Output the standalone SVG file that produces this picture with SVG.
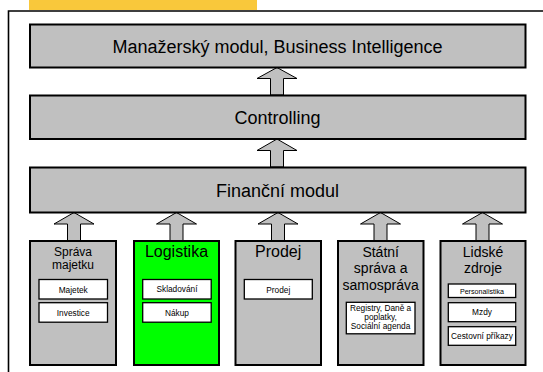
<svg xmlns="http://www.w3.org/2000/svg" width="543" height="372" viewBox="0 0 543 372">
<style>
.box{fill:#C0C0C0;stroke:#000;stroke-width:2}
.green{fill:#00FF00;stroke:#000;stroke-width:2}
.sub{fill:#fff;stroke:#000;stroke-width:1.3}
.arr{fill:#C0C0C0;stroke:#000;stroke-width:1}
text{font-family:"Liberation Sans",Arial,sans-serif;fill:#000;text-anchor:middle}
.big{font-size:18px}
.t{font-size:14px}
.s{font-size:8.3px}
</style>
<rect x="0" y="0" width="543" height="372" fill="#fff"/>
<rect x="29" y="0" width="228" height="10" fill="#F9C83B"/>
<path d="M8.5,380 V11 H560" fill="none" stroke="#000" stroke-width="1.6"/>
<g id="connectors">
<polygon class="arr" points="277,67.5 297,78.5 283.5,78.5 283.5,95 270.5,95 270.5,78.5 257,78.5"/>
<polygon class="arr" points="277,139 297,150.5 283.5,150.5 283.5,167 270.5,167 270.5,150.5 257,150.5"/>
<polygon class="arr" points="74,212.5 94,224 80.5,224 80.5,241 67.5,241 67.5,224 54,224"/>
<polygon class="arr" points="176.5,212.5 196.5,224 183,224 183,241 170,241 170,224 156.5,224"/>
<polygon class="arr" points="278,212.5 298,224 284.5,224 284.5,241 271.5,241 271.5,224 258,224"/>
<polygon class="arr" points="380.5,212.5 400.5,224 387,224 387,241 374,241 374,224 360.5,224"/>
<polygon class="arr" points="482.5,212.5 502.5,224 489,224 489,241 476,241 476,224 462.5,224"/>
</g>
<g id="bi">
<rect class="box" x="30" y="24.5" width="495.5" height="43"/>
<text class="big" x="277.5" y="52.5">Manažerský modul, Business Intelligence</text>
</g>
<g id="controlling">
<rect class="box" x="30" y="95.5" width="495.5" height="43.5"/>
<text class="big" x="277.5" y="123.5">Controlling</text>
</g>
<g id="financni">
<rect class="box" x="30" y="167.5" width="495.5" height="45"/>
<text class="big" x="277.5" y="196.5">Finanční modul</text>
</g>
<g id="sprava-majetku">
<rect class="box" x="30" y="241" width="86" height="124"/>
<text x="73" y="255.5" font-size="12">Správa</text>
<text x="73" y="268.5" font-size="12">majetku</text>
<rect class="sub" x="39" y="279.5" width="68.5" height="19.5"/>
<text class="s" x="73.2" y="292.5">Majetek</text>
<rect class="sub" x="39" y="302.7" width="68.5" height="19.5"/>
<text class="s" x="73.2" y="315.5">Investice</text>
</g>
<g id="logistika">
<rect class="green" x="134" y="241" width="85" height="124"/>
<text x="176.5" y="257" font-size="16">Logistika</text>
<rect class="sub" x="142.7" y="279.5" width="68.5" height="19.5"/>
<text class="s" x="177" y="292">Skladování</text>
<rect class="sub" x="142.7" y="302.7" width="68.5" height="19.5"/>
<text class="s" x="177" y="315.5">Nákup</text>
</g>
<g id="prodej">
<rect class="box" x="235.5" y="241" width="85.5" height="124"/>
<text x="278.2" y="257" font-size="16">Prodej</text>
<rect class="sub" x="244.3" y="279.5" width="68" height="19.5"/>
<text class="s" x="278.3" y="292.5">Prodej</text>
</g>
<g id="statni-sprava">
<rect class="box" x="338" y="241" width="85.5" height="124"/>
<text class="t" x="380.7" y="256.7">Státní</text>
<text class="t" x="380.7" y="273.3">správa a</text>
<text class="t" x="380.7" y="290">samospráva</text>
<rect class="sub" x="346.3" y="302.3" width="68.7" height="31.5"/>
<text class="s" x="380.6" y="310.5">Registry, Daně a</text>
<text class="s" x="380.6" y="319.8">poplatky,</text>
<text class="s" x="380.6" y="329.3">Sociální agenda</text>
</g>
<g id="lidske-zdroje">
<rect class="box" x="440.5" y="241" width="85" height="124"/>
<text class="t" x="483" y="257">Lidské</text>
<text class="t" x="483" y="272.7">zdroje</text>
<rect class="sub" x="448.3" y="284" width="67.4" height="13.5"/>
<text x="482" y="293.8" font-size="7.1">Personalistika</text>
<rect class="sub" x="448.3" y="302.7" width="67.4" height="19"/>
<text class="s" x="482" y="315.3">Mzdy</text>
<rect class="sub" x="448.3" y="326.7" width="67.4" height="18.6"/>
<text class="s" x="482" y="339">Cestovní příkazy</text>
</g>
</svg>
